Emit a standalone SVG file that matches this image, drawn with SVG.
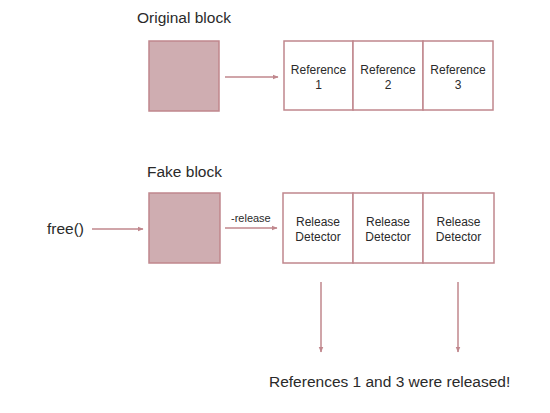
<svg xmlns="http://www.w3.org/2000/svg" width="550" height="413" viewBox="0 0 550 413">
<style>
text{font-family:"Liberation Sans",Arial,sans-serif;fill:#2a2a2a}
.t{font-size:15.5px}
.c{font-size:12px;text-anchor:middle}
.blk{fill:#cfadb1;stroke:#c0878d;stroke-width:1.5}
.cell{fill:#fff;stroke:#c0878d;stroke-width:1.5}
.ar{stroke:#c0878d;stroke-width:1.5;fill:none;marker-end:url(#ah)}
</style>
<defs>
<marker id="ah" viewBox="0 0 10 10" refX="9" refY="5" markerWidth="6" markerHeight="6" orient="auto" markerUnits="userSpaceOnUse">
<path d="M0,1 L10,5 L0,9 Z" fill="#c0878d"/>
</marker>
</defs>
<rect width="550" height="413" fill="#fff"/>
<text class="t" x="137" y="23">Original block</text>
<text class="t" x="147" y="177">Fake block</text>
<g id="orig"><rect class="blk" x="149" y="41" width="70" height="70"/></g>
<g id="refs">
<rect class="cell" x="284" y="41" width="69" height="69"/>
<rect class="cell" x="353" y="41" width="70" height="69"/>
<rect class="cell" x="423" y="41" width="70" height="69"/>
<text class="c" x="318.5" y="74">Reference</text><text class="c" x="318.5" y="89">1</text>
<text class="c" x="388" y="74">Reference</text><text class="c" x="388" y="89">2</text>
<text class="c" x="458" y="74">Reference</text><text class="c" x="458" y="89">3</text>
</g>
<g id="free"><text class="t" x="47" y="234">free()</text></g>
<g id="fake"><rect class="blk" x="149" y="193" width="71" height="70"/></g>
<g id="dets">
<rect class="cell" x="283" y="193" width="70" height="70"/>
<rect class="cell" x="353" y="193" width="70" height="70"/>
<rect class="cell" x="423" y="193" width="71" height="70"/>
<text class="c" x="318" y="226">Release</text><text class="c" x="318" y="241">Detector</text>
<text class="c" x="388" y="226">Release</text><text class="c" x="388" y="241">Detector</text>
<text class="c" x="458.5" y="226">Release</text><text class="c" x="458.5" y="241">Detector</text>
</g>
<g id="result"><text class="t" x="269" y="387">References 1 and 3 were released!</text></g>
<g id="connectors">
<line class="ar" x1="225" y1="77" x2="278" y2="77"/>
<line class="ar" x1="92" y1="229" x2="143" y2="229"/>
<line class="ar" x1="225" y1="228" x2="277" y2="228"/>
<text x="231" y="222" style="font-size:11px">-release</text>
<line class="ar" x1="321" y1="282" x2="321" y2="352"/>
<line class="ar" x1="458" y1="282" x2="458" y2="352"/>
</g>
</svg>
